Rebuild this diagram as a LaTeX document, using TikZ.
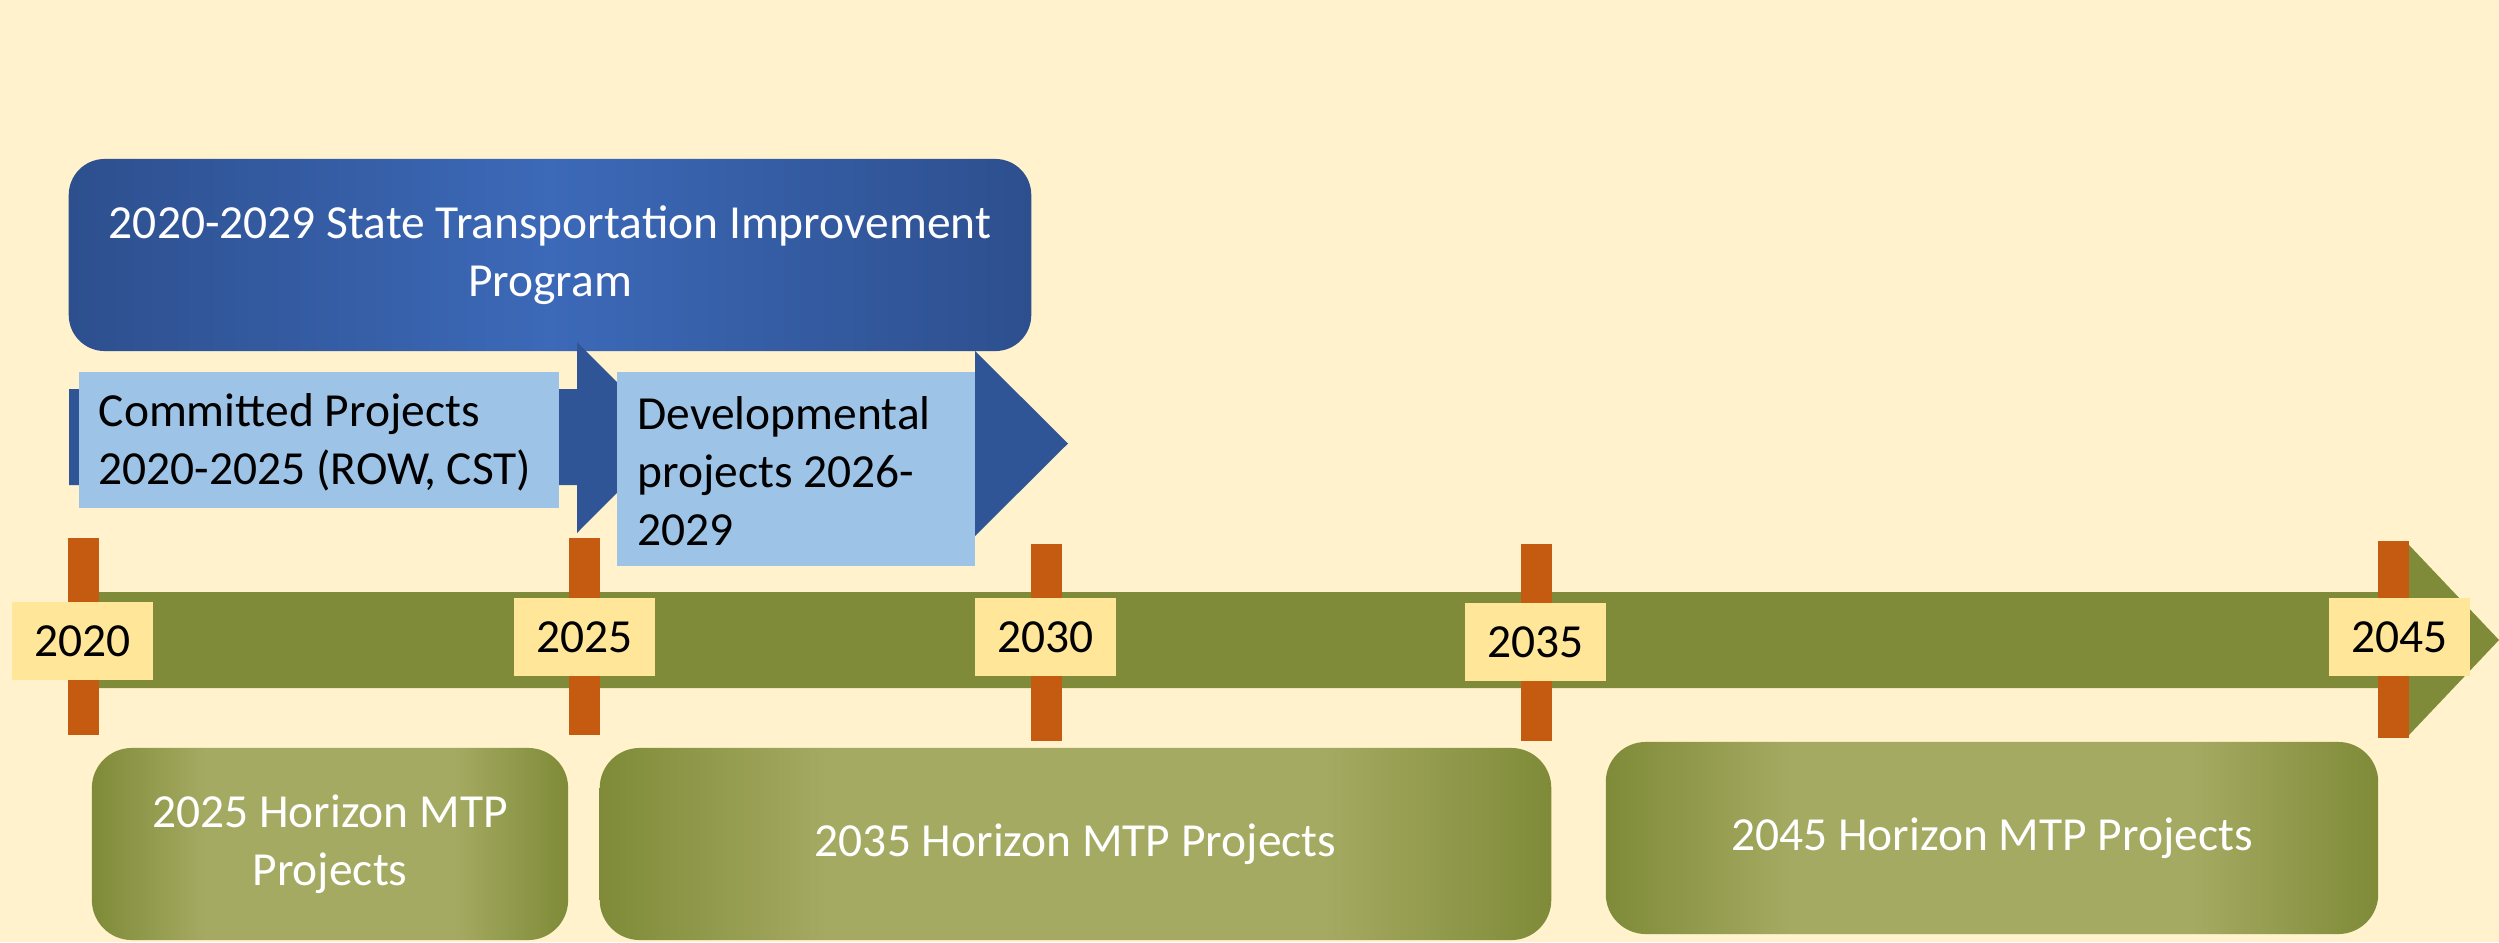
\documentclass[tikz,border=0pt]{standalone}
\usepackage{fontspec}
\setmainfont{Carlito}
\definecolor{bgc}{HTML}{FFF2CC}
\definecolor{stipdark}{HTML}{2D4F8E}
\definecolor{stiplight}{HTML}{3C69B8}
\definecolor{chev}{HTML}{2F5597}
\definecolor{lightblue}{HTML}{9DC3E6}
\definecolor{olive}{HTML}{7F8B38}
\definecolor{olivelight}{HTML}{A5AA62}
\definecolor{tickc}{HTML}{C55A11}
\definecolor{yearbg}{HTML}{FFE699}
\pgfdeclarehorizontalshading{greenplateau}{100bp}{color(0bp)=(olive); color(25bp)=(olive); color(37bp)=(olivelight); color(63bp)=(olivelight); color(75bp)=(olive); color(100bp)=(olive)}
\newcommand\fsz{\fontsize{13.5}{16.5}\selectfont}
\begin{document}
\begin{tikzpicture}[x=0.01cm,y=-0.01cm,
  stipbox/.style={rounded corners=0.36cm, left color=stipdark, right color=stipdark, middle color=stiplight,
    minimum width=9.62cm, minimum height=1.92cm, text=white, align=center, font=\fsz, inner sep=0pt},
  litebox/.style={fill=lightblue, inner sep=0pt},
  litetext/.style={anchor=west, text=black, align=left, font=\fsz, inner sep=0pt},
  yearlbl/.style={fill=yearbg, text=black, font=\fsz, minimum width=1.41cm, minimum height=0.78cm, inner sep=0pt},
  greenbox/.style={rounded corners=0.4cm, shading=greenplateau,
    minimum height=1.92cm, text=white, align=center, font=\fsz, inner sep=0pt},
  tickbar/.style={fill=tickc},
  chevron/.style={fill=chev},
  timeline/.style={fill=olive}]
\fill[bgc] (0,0) rectangle (2499,942);
\useasboundingbox (0,0) rectangle (2499,942);
% STIP box
\node[stipbox] (stip) at (550,255) {2020-2029 State Transportation Improvement\\Program};
% chevrons
\fill[chevron] (69,389) -- (577,389) -- (577,342) -- (672,437.5) -- (577,533) -- (577,485) -- (69,485) -- cycle;
\fill[chevron] (617,395) -- (975,395) -- (975,351) -- (1068,443.5) -- (975,536) -- (975,491) -- (617,491) -- cycle;
% light boxes
\node[litebox, minimum width=4.80cm, minimum height=1.36cm] (committed) at (319,440) {};
\node[litetext] (committedtxt) at (98,442) {Committed Projects\\2020-2025 (ROW, CST)};
\node[litebox, minimum width=3.58cm, minimum height=1.94cm] (developmental) at (796,469) {};
\node[litetext] (developmentaltxt) at (637,471) {Developmental\\projects 2026-\\2029};
% timeline
\fill[timeline] (69,592) -- (2409,592) -- (2409,545) -- (2499,640) -- (2409,735) -- (2409,688) -- (69,688) -- cycle;
% ticks
\fill[tickbar] (68,538) rectangle (99,735);
\fill[tickbar] (569,538) rectangle (600,735);
\fill[tickbar] (1031,544) rectangle (1062,741);
\fill[tickbar] (1521,544) rectangle (1552,741);
\fill[tickbar] (2378,541) rectangle (2409,738);
% year labels
\node[yearlbl] (y2020) at (82.5,641) {2020};
\node[yearlbl] (y2025) at (584.5,637) {2025};
\node[yearlbl] (y2030) at (1045.5,637) {2030};
\node[yearlbl] (y2035) at (1535.5,642) {2035};
\node[yearlbl] (y2045) at (2399.5,637) {2045};
% horizon boxes
\node[greenbox, minimum width=4.76cm] (h2025) at (330,844) {2025 Horizon MTP\\Projects};
\node[greenbox, minimum width=9.51cm] (h2035) at (1075.5,844) {2035 Horizon MTP Projects};
\node[greenbox, minimum width=7.72cm] (h2045) at (1992,838) {2045 Horizon MTP Projects};
\end{tikzpicture}
\end{document}
